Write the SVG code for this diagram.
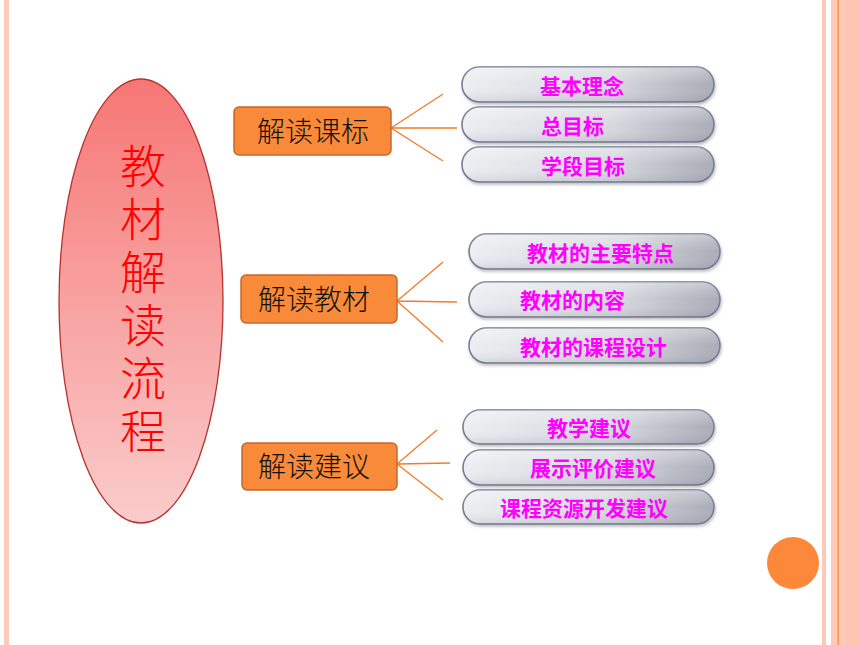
<svg xmlns="http://www.w3.org/2000/svg" width="860" height="645" viewBox="0 0 860 645">
<defs>
<linearGradient id="ellG" x1="0" y1="0" x2="0" y2="1">
<stop offset="0" stop-color="#f67775"/>
<stop offset="1" stop-color="#f9cccb"/>
</linearGradient>
<linearGradient id="pillG" x1="0" y1="0" x2="1" y2="0">
<stop offset="0" stop-color="#eceef2"/>
<stop offset="0.6" stop-color="#d6d8de"/>
<stop offset="1" stop-color="#a9acb7"/>
</linearGradient>
<linearGradient id="pillShade" x1="0" y1="0" x2="0" y2="1">
<stop offset="0" stop-color="#ffffff" stop-opacity="0.35"/>
<stop offset="0.5" stop-color="#ffffff" stop-opacity="0"/>
<stop offset="1" stop-color="#5a5e70" stop-opacity="0.15"/>
</linearGradient>
<filter id="sh" x="-10%" y="-30%" width="120%" height="170%">
<feDropShadow dx="1" dy="2" stdDeviation="1.5" flood-color="#000" flood-opacity="0.25"/>
</filter>
</defs>
<style>
.box{fill:#f98a3a;stroke:#c5682e;stroke-width:1.5}
.boxt{font-family:"Noto Sans CJK SC",sans-serif;font-size:28px;font-weight:300;fill:#111;dominant-baseline:central}
.pill{fill:url(#pillG);stroke:#737891;stroke-width:1.5}
.shade{fill:url(#pillShade)}
.pt{font-family:"Noto Sans CJK SC",sans-serif;font-size:21px;font-weight:bold;fill:#ff00ff;dominant-baseline:central}
.conn{stroke:#f47b2a;stroke-width:1.3;fill:none}
.strip{fill:#fccab6}
</style>
<rect x="0" y="0" width="860" height="645" fill="#ffffff"/>
<!-- decorative strips -->
<rect class="strip" x="4" y="0" width="5" height="645"/>
<rect class="strip" x="822" y="0" width="4" height="645"/>
<rect class="strip" x="831" y="0" width="14" height="645"/>
<rect x="845" y="0" width="15" height="645" fill="#fcc6b2"/>
<rect x="837.5" y="0" width="1.3" height="645" fill="#f98a3a"/>
<circle cx="793" cy="563" r="26" fill="#fd8839"/>

<g id="main">
<ellipse cx="141" cy="301" rx="82" ry="222" fill="url(#ellG)" stroke="#b8322f" stroke-width="1.3"/>
<text x="143" y="143" font-family="Noto Sans CJK SC, sans-serif" font-size="46" fill="#ff0000" font-weight="300" writing-mode="vertical-rl" letter-spacing="7">教材解读流程</text>
</g>

<g id="connectors">
<path class="conn" d="M391 128 L443 94 M391 128 L457 128 M391 128 L443 161"/>
<path class="conn" d="M397 301 L443 262 M397 301 L457 302 M397 301 L443 342"/>
<path class="conn" d="M397 464 L437 430 M397 464 L450 463 M397 464 L443 500"/>
</g>

<g id="box1"><rect class="box" x="234" y="107" width="157" height="48" rx="5"/><text class="boxt" x="257" y="130">解读课标</text></g>
<g id="box2"><rect class="box" x="241" y="275" width="156" height="48" rx="5"/><text class="boxt" x="258" y="298">解读教材</text></g>
<g id="box3"><rect class="box" x="242" y="443" width="155" height="47" rx="5"/><text class="boxt" x="258" y="465">解读建议</text></g>

<g id="p1"><g filter="url(#sh)"><rect class="pill" x="462" y="67" width="252" height="35" rx="17.5"/></g><rect class="shade" x="462" y="67" width="252" height="35" rx="17.5"/><text class="pt" x="540" y="85">基本理念</text></g>
<g id="p2"><g filter="url(#sh)"><rect class="pill" x="462" y="107" width="252" height="35" rx="17.5"/></g><rect class="shade" x="462" y="107" width="252" height="35" rx="17.5"/><text class="pt" x="541" y="125">总目标</text></g>
<g id="p3"><g filter="url(#sh)"><rect class="pill" x="462" y="147" width="252" height="35" rx="17.5"/></g><rect class="shade" x="462" y="147" width="252" height="35" rx="17.5"/><text class="pt" x="541" y="165">学段目标</text></g>

<g id="p4"><g filter="url(#sh)"><rect class="pill" x="469" y="234" width="251" height="35" rx="17.5"/></g><rect class="shade" x="469" y="234" width="251" height="35" rx="17.5"/><text class="pt" x="527" y="252">教材的主要特点</text></g>
<g id="p5"><g filter="url(#sh)"><rect class="pill" x="469" y="282" width="251" height="35" rx="17.5"/></g><rect class="shade" x="469" y="282" width="251" height="35" rx="17.5"/><text class="pt" x="520" y="299">教材的内容</text></g>
<g id="p6"><g filter="url(#sh)"><rect class="pill" x="469" y="328" width="251" height="35" rx="17.5"/></g><rect class="shade" x="469" y="328" width="251" height="35" rx="17.5"/><text class="pt" x="520" y="346">教材的课程设计</text></g>

<g id="p7"><g filter="url(#sh)"><rect class="pill" x="463" y="410" width="251" height="34" rx="17"/></g><rect class="shade" x="463" y="410" width="251" height="34" rx="17"/><text class="pt" x="547" y="427">教学建议</text></g>
<g id="p8"><g filter="url(#sh)"><rect class="pill" x="463" y="450" width="251" height="35" rx="17.5"/></g><rect class="shade" x="463" y="450" width="251" height="35" rx="17.5"/><text class="pt" x="530" y="467">展示评价建议</text></g>
<g id="p9"><g filter="url(#sh)"><rect class="pill" x="463" y="490" width="251" height="34" rx="17"/></g><rect class="shade" x="463" y="490" width="251" height="34" rx="17"/><text class="pt" x="500" y="507">课程资源开发建议</text></g>
</svg>
